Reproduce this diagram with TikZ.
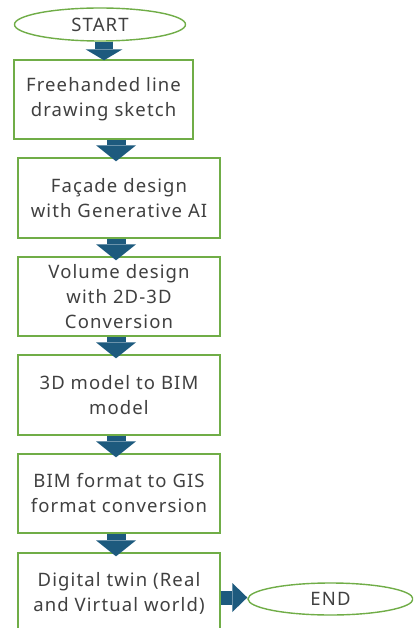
\documentclass[tikz,border=0pt]{standalone}
\usepackage{fontspec}
\setmainfont{Noto Sans}[LetterSpace=6]
\usetikzlibrary{shapes.geometric,arrows.meta}
\definecolor{boxgreen}{HTML}{70AD47}
\definecolor{arrowblue}{HTML}{1D5A7E}
\definecolor{txtgray}{HTML}{404040}
\tikzset{
  stepbox/.style={draw=boxgreen, line width=1.4pt, fill=white, align=center, inner sep=0pt,
    text=txtgray, font=\fontsize{18.5}{25}\selectfont},
  term/.style={ellipse, draw=boxgreen, line width=1.4pt, fill=white, inner sep=0pt,
    text=txtgray, font=\fontsize{18.5}{25}\selectfont},
  bigarrow/.style={draw=arrowblue, line width=19pt,
    -{Triangle[length=16pt,width=40pt,line width=0pt]}},
  firstarrow/.style={draw=arrowblue, line width=18pt,
    -{Triangle[length=11pt,width=37pt,line width=0pt]}},
  sidearrow/.style={draw=arrowblue, line width=14pt,
    -{Triangle[length=15pt,width=29pt,line width=0pt]}}
}
\begin{document}
\begin{tikzpicture}[x=1pt,y=-1pt]
\useasboundingbox (0,0) rectangle (413,628);
\clip (0,0) rectangle (413,628);
\fill[white] (0,0) rectangle (413,628);
\node[term, minimum width=171pt, minimum height=33pt] (start) at (100,24.5) {START};
\node[stepbox, minimum width=179pt, minimum height=79pt] (b1) at (103.5,99.5) {Freehanded line\\drawing sketch};
\node[stepbox, minimum width=202pt, minimum height=80pt] (b2) at (119,198) {Façade design\\with Generative AI};
\node[stepbox, minimum width=202pt, minimum height=79pt] (b3) at (119,296.5) {Volume design\\with 2D-3D\\Conversion};
\node[stepbox, minimum width=202pt, minimum height=80pt] (b4) at (119,395) {3D model to BIM\\model};
\node[stepbox, minimum width=202pt, minimum height=79pt] (b5) at (119,493.5) {BIM format to GIS\\format conversion};
\node[stepbox, minimum width=202pt, minimum height=80pt] (b6) at (119,593) {Digital twin (Real\\and Virtual world)};
\node[term, minimum width=165pt, minimum height=32pt] (end) at (330.5,599) {END};
\draw[firstarrow] ([xshift=4pt]start.south) -- ([xshift=0.5pt,yshift=-1pt]b1.north);
\draw[bigarrow] ([xshift=12.5pt]b1.south) -- ([xshift=-3pt,yshift=-4pt]b2.north);
\draw[bigarrow] ([xshift=-3pt]b2.south) -- ([xshift=-3pt,yshift=-4pt]b3.north);
\draw[bigarrow] ([xshift=-3pt]b3.south) -- ([xshift=-3pt,yshift=-4pt]b4.north);
\draw[bigarrow] ([xshift=-3pt]b4.south) -- ([xshift=-3pt,yshift=-4pt]b5.north);
\draw[bigarrow] ([xshift=-3pt]b5.south) -- ([xshift=-3pt,yshift=-4pt]b6.north);
\draw[sidearrow] ([yshift=1.5pt]b6.east |- end.west) -- ([yshift=1.5pt]end.west);
\end{tikzpicture}
\end{document}
